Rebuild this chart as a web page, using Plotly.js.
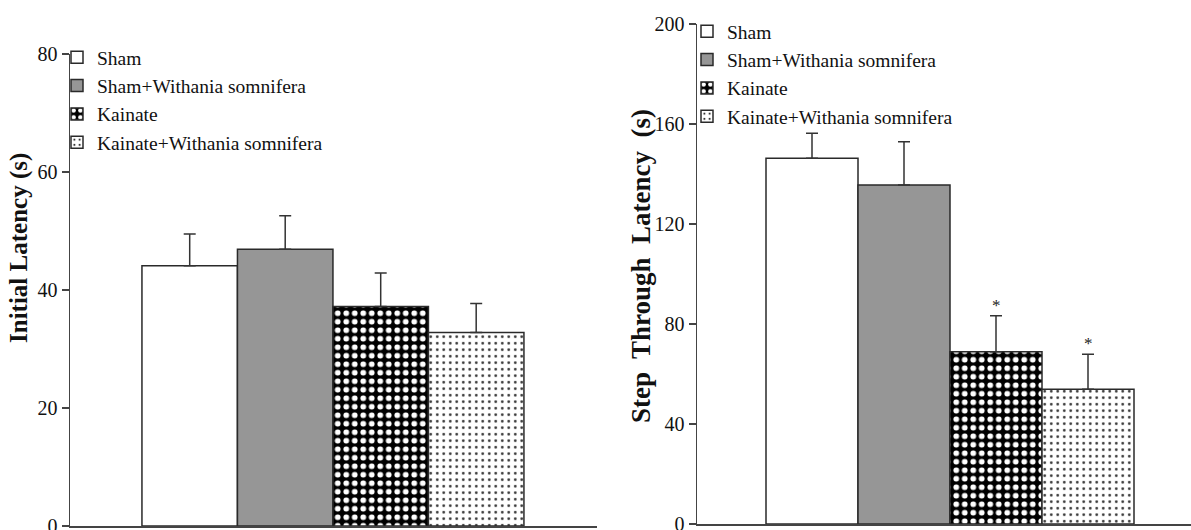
<!DOCTYPE html>
<html>
<head>
<meta charset="utf-8">
<script src="https://cdn.plot.ly/plotly-3.0.1.min.js"></script>
<style>
html,body{margin:0;padding:0;background:#fff;}
#chart{width:1191px;height:530px;}
</style>
</head>
<body>
<div id="chart"></div>
<script>
// ---- data ----
var groups = ['Sham', 'Sham+Withania somnifera', 'Kainate', 'Kainate+Withania somnifera'];
var initialLatency = [44.1, 46.9, 37.2, 32.8];
var initialLatencyErr = [5.4, 5.7, 5.7, 4.9];
var stepThrough = [146.3, 135.6, 68.9, 53.9];
var stepThroughErr = [10.0, 17.3, 14.4, 14.0];
var stepThroughSig = ['', '', '*', '*'];
var leftTicks = [0, 20, 40, 60, 80];
var rightTicks = [0, 40, 80, 120, 160, 200];

// ---- styles ----
var FONT = 'Liberation Serif, Times New Roman, serif';
var styles = [
  {color: '#ffffff', pattern: {shape: ''}},
  {color: '#969696', pattern: {shape: ''}},
  {color: '#000000', pattern: {shape: '.', bgcolor: '#000000', fgcolor: '#ffffff', size: 8.5, solidity: 0.36, fillmode: 'replace'}},
  {color: '#ffffff', pattern: {shape: '.', bgcolor: '#ffffff', fgcolor: '#333333', size: 6.5, solidity: 0.14, fillmode: 'replace'}}
];

var traces = [];
function addPanel(values, errs, xa, ya, legendId) {
  groups.forEach(function (g, i) {
    traces.push({
      type: 'bar',
      name: g,
      x: [i + 1],
      y: [values[i]],
      width: 1,
      xaxis: xa,
      yaxis: ya,
      legend: legendId,
      marker: {
        color: styles[i].color,
        pattern: styles[i].pattern,
        line: {color: '#2a2a2a', width: 1.5}
      },
      error_y: {
        type: 'data', symmetric: false, array: [errs[i]], arrayminus: [0],
        color: '#333333', thickness: 1.5, width: 6
      },
      hoverinfo: 'x+y'
    });
  });
}
addPanel(initialLatency, initialLatencyErr, 'x', 'y', 'legend');
addPanel(stepThrough, stepThroughErr, 'x2', 'y2', 'legend2');

var annotations = [];
stepThroughSig.forEach(function (s, i) {
  if (!s) return;
  annotations.push({
    xref: 'x2', yref: 'y2', x: i + 1, y: stepThrough[i] + stepThroughErr[i],
    text: s, showarrow: false, xanchor: 'center', yanchor: 'bottom', yshift: -1,
    font: {family: FONT, size: 17, color: '#222'}
  });
});
annotations.push({
  xref: 'paper', yref: 'paper', x: 19 / 1191, y: 1 - 248 / 530,
  text: '<b>Initial Latency (s)</b>', textangle: -90, showarrow: false,
  xanchor: 'center', yanchor: 'middle',
  font: {family: FONT, size: 25, color: '#111'}
});
annotations.push({
  xref: 'paper', yref: 'paper', x: 641 / 1191, y: 1 - 266 / 530,
  text: '<b>Step&nbsp; Through&nbsp; Latency&nbsp; (s)</b>', textangle: -90, showarrow: false,
  xanchor: 'center', yanchor: 'middle',
  font: {family: FONT, size: 27, color: '#111'}
});

var yCommon = {
  showline: true, linecolor: '#444', linewidth: 1.5,
  ticks: 'outside', ticklen: 7, tickwidth: 1.5, tickcolor: '#444',
  tickfont: {family: FONT, size: 20, color: '#111'},
  ticklabeloverflow: 'allow',
  showgrid: false, zeroline: false, automargin: false, fixedrange: true
};
var xCommon = {
  showline: true, linecolor: '#444', linewidth: 1.5,
  showticklabels: false, ticks: '', showgrid: false, zeroline: false,
  automargin: false, fixedrange: true
};

var layout = {
  width: 1191, height: 530,
  margin: {l: 0, r: 0, t: 0, b: 0},
  paper_bgcolor: '#fff', plot_bgcolor: '#fff',
  barmode: 'overlay',
  showlegend: true,
  font: {family: FONT, color: '#111'},
  xaxis: Object.assign({}, xCommon, {domain: [70 / 1191, 597 / 1191], range: [-0.2534, 5.265], anchor: 'y'}),
  yaxis: Object.assign({}, yCommon, {domain: [1 - 526 / 530, 1 - 54 / 530], range: [0, 80], tickvals: leftTicks, anchor: 'x'}),
  xaxis2: Object.assign({}, xCommon, {domain: [697 / 1191, 1], range: [-0.25, 5.1196], anchor: 'y2'}),
  yaxis2: Object.assign({}, yCommon, {domain: [1 - 524 / 530, 1 - 24 / 530], range: [0, 200], tickvals: rightTicks, anchor: 'x2'}),
  legend: {
    x: 57 / 1191, y: 1 - 38 / 530, xanchor: 'left', yanchor: 'top',
    bgcolor: 'rgba(0,0,0,0)', borderwidth: 0, traceorder: 'normal',
    font: {family: FONT, size: 19.5, color: '#111'}, itemclick: false
  },
  legend2: {
    x: 687 / 1191, y: 1 - 12 / 530, xanchor: 'left', yanchor: 'top',
    bgcolor: 'rgba(0,0,0,0)', borderwidth: 0, traceorder: 'normal',
    font: {family: FONT, size: 19.5, color: '#111'}, itemclick: false
  },
  annotations: annotations
};

Plotly.newPlot('chart', traces, layout, {displayModeBar: false, staticPlot: true});
</script>
</body>
</html>
